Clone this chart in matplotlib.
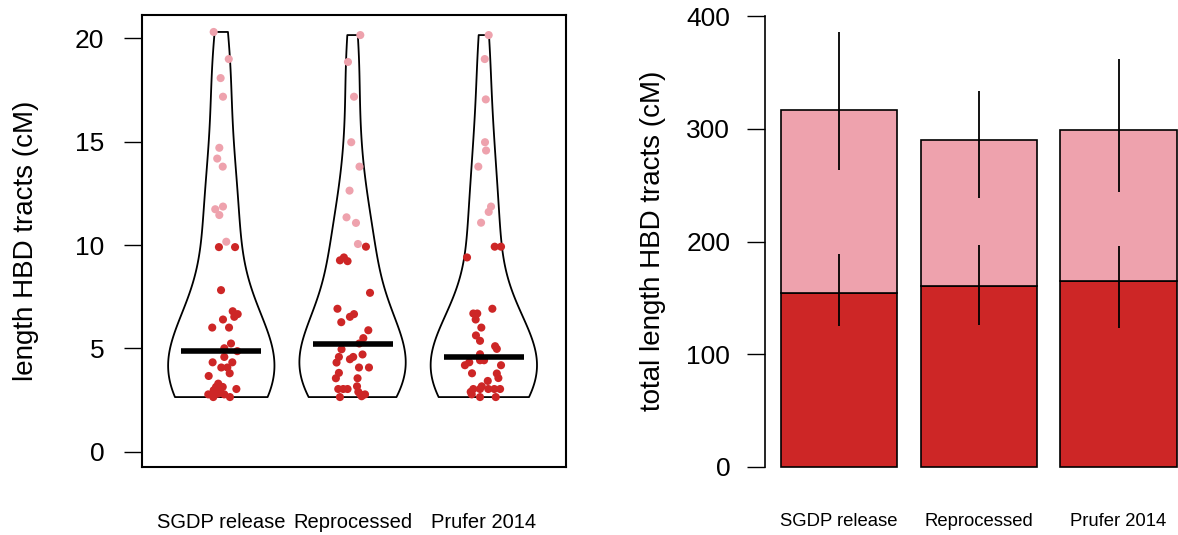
import numpy as np
import matplotlib
matplotlib.use("Agg")
import matplotlib.pyplot as plt

plt.rcParams['font.family'] = ['Liberation Sans', 'DejaVu Sans']

categories = ["SGDP release", "Reprocessed", "Prufer 2014"]

# tract lengths (cM), with horizontal jitter offsets
len_sgdp = [20.30, 18.99, 18.07, 17.17, 14.70, 14.18, 13.79, 11.86, 11.73, 11.45, 10.16,
            9.90, 9.90, 7.82, 6.80, 6.66, 6.53, 6.40, 6.01, 6.01, 5.24, 5.01, 4.87, 4.59,
            4.33, 4.33, 4.08, 4.08, 3.80, 3.67, 3.30, 3.14, 3.14, 3.04, 2.98, 2.94, 2.78,
            2.78, 2.78, 2.65, 2.65, 2.82]
jit_sgdp = [-0.058, 0.057, -0.005, 0.013, -0.015, -0.031, 0.011, 0.013, -0.046, -0.015, 0.038,
            -0.018, 0.105, -0.002, 0.087, 0.125, 0.099, 0.013, -0.069, 0.059, 0.074, 0.023, 0.122, 0.023,
            -0.066, 0.084, 0.0, 0.046, 0.064, -0.096, -0.023, -0.040, 0.011, 0.115, -0.058, -0.010, -0.099,
            -0.048, 0.023, -0.061, 0.066, -0.023]

len_repro = [20.15, 18.85, 17.17, 14.97, 13.79, 12.63, 11.34, 11.07, 10.05,
             9.92, 9.26, 9.40, 9.22, 7.69, 6.92, 6.53, 6.66, 6.27, 5.88, 5.50, 5.24, 4.96,
             4.59, 4.71, 4.48, 4.59, 4.32, 4.08, 4.08, 3.82, 3.56, 3.56, 3.04, 3.04, 3.04,
             3.17, 2.90, 2.78, 2.78, 2.65, 2.69]
jit_repro = [0.059, -0.035, 0.011, -0.010, 0.053, -0.023, -0.046, 0.026, 0.041,
             0.102, -0.096, -0.066, -0.038, 0.133, -0.115, -0.020, 0.011, -0.086, 0.120, 0.082, 0.051, -0.084,
             -0.104, 0.076, -0.020, 0.005, -0.122, 0.049, 0.125, -0.104, -0.127, 0.038, -0.109, -0.071, -0.038,
             0.034, 0.044, 0.095, 0.059, -0.096, 0.069]

len_prufer = [20.15, 18.99, 17.04, 14.97, 14.57, 13.79, 11.86, 11.60, 11.08,
              9.92, 9.92, 9.40, 6.92, 6.69, 6.69, 6.40, 6.01, 5.63, 5.37, 5.11, 4.98, 4.72,
              4.33, 4.19, 4.43, 4.43, 4.19, 3.80, 3.79, 3.57, 3.43, 3.17, 3.04, 3.04, 3.04,
              3.04, 3.04, 2.78, 2.90, 2.65, 2.65]
jit_prufer = [0.037, 0.007, 0.015, 0.009, 0.017, -0.042, 0.055, 0.037, -0.021,
              0.083, 0.131, -0.128, 0.065, -0.080, -0.050, -0.062, -0.019, -0.060, -0.029, 0.086, 0.099, -0.029,
              -0.111, -0.144, -0.029, 0.002, 0.131, -0.090, 0.099, 0.111, 0.030, -0.016, -0.080, -0.029, 0.034,
              0.080, 0.124, -0.092, -0.100, -0.029, 0.091]

medians = [4.87, 5.24, 4.59]
threshold = 10.0

# bar panel: total length (cM) of short (<10 cM) tracts and all tracts
short_total = [154.5, 160.2, 165.4]
all_total = [316.9, 290.3, 299.3]
short_err_lo = [124.9, 125.5, 123.0]
short_err_hi = [189.0, 197.1, 195.6]
all_err_lo = [263.0, 238.2, 244.0]
all_err_hi = [385.5, 333.5, 362.2]

dark = "#CD2626"
pink = "#EEA2AD"

W, H = 1178, 535
fig = plt.figure(figsize=(W / 100, H / 100), dpi=100)

# ---------------- left panel: violins ----------------
axL = fig.add_axes([142 / W, 68 / H, (566 - 142) / W, 452 / H])
groups = [len_sgdp, len_repro, len_prufer]
jits = [jit_sgdp, jit_repro, jit_prufer]
pos = [1, 2, 3]
vp = axL.violinplot(groups, positions=pos, widths=0.81, showextrema=False,
                    bw_method='scott', points=200)
for b in vp['bodies']:
    b.set_facecolor('none')
    b.set_edgecolor('black')
    b.set_linewidth(1.3)
    b.set_alpha(1)
    b.set_zorder(2)
for p, g, j in zip(pos, groups, jits):
    g = np.array(g)
    x = p + np.array(j)
    col = np.where(g > threshold, pink, dark)
    axL.scatter(x, g, s=34, c=col, linewidths=0, zorder=3)
axL.hlines(medians, np.array(pos) - 0.305, np.array(pos) + 0.305, colors='black',
           linewidth=4, zorder=4)
axL.set_xlim(0.396, 3.626)
axL.set_ylim(-0.73, 21.12)
axL.set_yticks([0, 5, 10, 15, 20])
axL.tick_params(axis='y', length=13, width=1, labelsize=19, pad=14)
axL.set_xticks(pos)
axL.set_xticklabels(categories)
axL.tick_params(axis='x', length=0, labelsize=14.5, pad=33)
for s in axL.spines.values():
    s.set_linewidth(1.5)
axL.set_ylabel("length HBD tracts (cM)", fontsize=20)
axL.yaxis.set_label_coords(-0.243, 0.5)

# ---------------- right panel: stacked bars ----------------
axR = fig.add_axes([765 / W, 68 / H, (W - 765) / W, 452 / H])
bx = np.array([0.7, 1.9, 3.1])
upper = np.array(all_total) - np.array(short_total)
axR.bar(bx, short_total, width=1.0, color=dark, edgecolor='black', linewidth=1.2, clip_on=False)
axR.bar(bx, upper, bottom=short_total, width=1.0, color=pink, edgecolor='black',
        linewidth=1.2, clip_on=False)
axR.vlines(bx, short_err_lo, short_err_hi, colors='black', linewidth=1.3, zorder=5)
axR.vlines(bx, all_err_lo, all_err_hi, colors='black', linewidth=1.3, zorder=5)
axR.set_xlim(0.065, 3.61)
axR.set_ylim(0, 400 * 452 / 451)
for k in ['top', 'right', 'bottom']:
    axR.spines[k].set_visible(False)
axR.spines['left'].set_bounds(0, 400)
axR.spines['left'].set_linewidth(1.2)
axR.set_yticks([0, 100, 200, 300, 400])
axR.tick_params(axis='y', length=13, width=1, labelsize=19, pad=12)
axR.set_xticks(bx)
axR.set_xticklabels(categories)
axR.tick_params(axis='x', length=0, labelsize=13.3, pad=33)
axR.set_ylabel("total length HBD tracts (cM)", fontsize=20)
axR.yaxis.set_label_coords(-0.240, 0.5)

fig.savefig("out.png", dpi=100)
